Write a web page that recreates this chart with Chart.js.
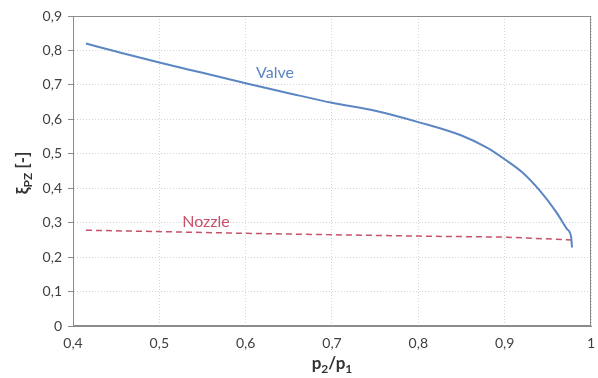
<!DOCTYPE html>
<html>
<head>
<meta charset="utf-8">
<script src="https://cdn.jsdelivr.net/npm/chart.js"></script>
<style>
  html, body { margin: 0; padding: 0; background: #fff; }
  #wrap { width: 598px; height: 378px; }
</style>
</head>
<body>
<div id="wrap"><canvas id="c" width="598" height="378"></canvas></div>
<script>
// pressure ratio p2/p1 and loss coefficient
const valveX = [0.415, 0.45, 0.5, 0.55, 0.6, 0.65, 0.7, 0.75, 0.8, 0.85, 0.88, 0.9, 0.92, 0.94, 0.96, 0.972, 0.977, 0.978];
const valveY = [0.820, 0.797, 0.765, 0.735, 0.705, 0.676, 0.648, 0.625, 0.592, 0.553, 0.517, 0.484, 0.447, 0.395, 0.33, 0.282, 0.258, 0.228];
const nozzleX = [0.415, 0.5, 0.6, 0.7, 0.8, 0.9, 0.978];
const nozzleY = [0.278, 0.274, 0.269, 0.265, 0.261, 0.258, 0.250];
const xTicks = [0.4, 0.5, 0.6, 0.7, 0.8, 0.9, 1];
const yTicks = [0, 0.1, 0.2, 0.3, 0.4, 0.5, 0.6, 0.7, 0.8, 0.9];

const FONT = 'Lato, "Open Sans", sans-serif';
const blue = '#5b86c2';
const red = '#c8506a';

function pts(xs, ys) { return xs.map((x, i) => ({ x: x, y: ys[i] })); }
function fmt(v) { return String(Math.round(v * 10) / 10).replace('.', ','); }

// series labels and axis titles with subscripts
const annot = {
  id: 'annot',
  afterDraw(chart) {
    const ctx = chart.ctx, xs = chart.scales.x, ys = chart.scales.y;
    ctx.save();
    ctx.font = '16px ' + FONT;
    ctx.textAlign = 'center';
    ctx.textBaseline = 'middle';
    ctx.fillStyle = blue;
    ctx.fillText('Valve', xs.getPixelForValue(0.634), ys.getPixelForValue(0.736));
    ctx.fillStyle = red;
    ctx.fillText('Nozzle', xs.getPixelForValue(0.554), ys.getPixelForValue(0.302));

    // x title p2/p1
    ctx.fillStyle = '#333';
    ctx.textAlign = 'left';
    ctx.textBaseline = 'alphabetic';
    const big = 'bold 17px ' + FONT, small = 'bold 12px ' + FONT;
    const parts = [['p', big, 0], ['2', small, 4], ['/p', big, 0], ['1', small, 4]];
    let w = 0;
    parts.forEach(p => { ctx.font = p[1]; w += ctx.measureText(p[0]).width; });
    let x = (chart.chartArea.left + chart.chartArea.right) / 2 - w / 2;
    parts.forEach(p => { ctx.font = p[1]; ctx.fillText(p[0], x, 369 + p[2]); x += ctx.measureText(p[0]).width; });

    // y title ξpz [-]
    ctx.translate(28, 173);
    ctx.rotate(-Math.PI / 2);
    const yp = [['\u03be', big, 0], ['PZ', small, 4], [' [-]', big, 0]];
    w = 0;
    yp.forEach(p => { ctx.font = p[1]; w += ctx.measureText(p[0]).width; });
    x = -w / 2;
    yp.forEach(p => { ctx.font = p[1]; ctx.fillText(p[0], x, 0 + p[2]); x += ctx.measureText(p[0]).width; });
    ctx.restore();
  }
};

new Chart(document.getElementById('c'), {
  type: 'line',
  data: {
    datasets: [{
      label: 'Valve',
      data: pts(valveX, valveY),
      borderColor: blue,
      borderWidth: 2,
      pointRadius: 0,
      cubicInterpolationMode: 'monotone'
    }, {
      label: 'Nozzle',
      data: pts(nozzleX, nozzleY),
      borderColor: red,
      borderWidth: 1.5,
      borderDash: [6, 4],
      pointRadius: 0,
      tension: 0
    }]
  },
  options: {
    responsive: false,
    animation: false,
    layout: { padding: { top: 16, right: 7, left: 0, bottom: 0 } },
    plugins: { legend: { display: false }, tooltip: { enabled: false } },
    scales: {
      x: {
        type: 'linear',
        min: 0.4, max: 1,
        afterBuildTicks: s => { s.ticks = xTicks.map(v => ({ value: v })); },
        afterFit: s => { s.height = 52; s.paddingLeft = 0; s.paddingRight = 0; },
        ticks: { callback: fmt, color: '#404040', font: { family: FONT, size: 14 }, padding: 9, maxRotation: 0 },
        grid: { color: '#d4d4d4', drawTicks: false },
        border: { display: true, color: '#8c8c8c', width: 1, dash: [1, 2] }
      },
      y: {
        min: 0, max: 0.9,
        afterBuildTicks: s => { s.ticks = yTicks.map(v => ({ value: v })); },
        afterFit: s => { s.width = 73; s.paddingTop = 0; s.paddingBottom = 0; },
        ticks: { callback: fmt, color: '#404040', font: { family: FONT, size: 14 }, padding: 6 },
        grid: { color: '#d4d4d4', tickLength: 5, tickColor: '#8c8c8c', tickBorderDash: [] },
        border: { display: true, color: '#8c8c8c', width: 1, dash: [1, 2] }
      }
    }
  },
  plugins: [annot, {
    id: 'frame',
    afterDraw(chart) {
      const a = chart.chartArea, ctx = chart.ctx;
      ctx.save();
      ctx.strokeStyle = '#8c8c8c';
      ctx.lineWidth = 1;
      ctx.setLineDash([]);
      ctx.strokeRect(Math.round(a.left) + 0.5, Math.round(a.top) + 0.5, Math.round(a.right - a.left) - 1, Math.round(a.bottom - a.top) - 1);
      ctx.restore();
    }
  }]
});
</script>
</body>
</html>
